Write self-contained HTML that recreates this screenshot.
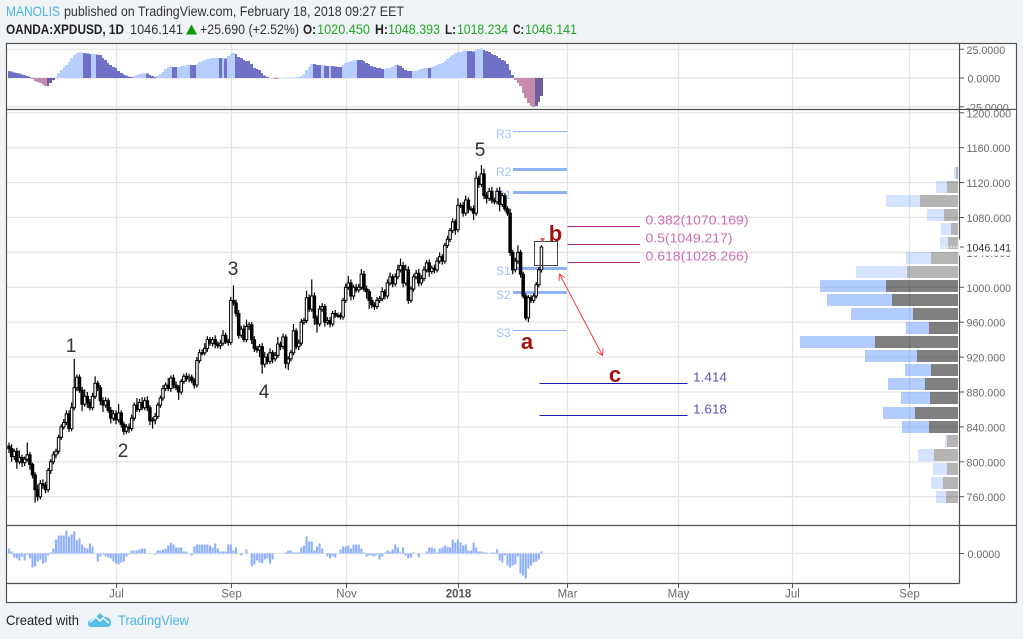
<!DOCTYPE html>
<html lang="en">
<head>
<meta charset="utf-8">
<title>OANDA:XPDUSD chart</title>
<style>
html,body{margin:0;padding:0;width:1023px;height:639px;overflow:hidden;background:#f0f3f7}
svg{display:block}
text{font-family:"Liberation Sans",sans-serif}
</style>
</head>
<body>
<svg id="chart" xmlns="http://www.w3.org/2000/svg" width="1023" height="639" viewBox="0 0 1023 639">
  <rect width="1023" height="639" fill="#f0f3f7"/>
  <g>
    <text x="6" y="16" font-size="14" fill="#4bb5e6" textLength="54" lengthAdjust="spacingAndGlyphs">MANOLIS</text>
    <text x="64" y="16" font-size="14" fill="#333" textLength="340" lengthAdjust="spacingAndGlyphs">published on TradingView.com, February 18, 2018 09:27 EET</text>
    <text x="6" y="34" font-size="14" font-weight="bold" fill="#222" textLength="118" lengthAdjust="spacingAndGlyphs">OANDA:XPDUSD, 1D</text>
    <text x="130" y="34" font-size="14" fill="#333" textLength="53" lengthAdjust="spacingAndGlyphs">1046.141</text>
    <polygon points="186,34.5 197,34.5 191.5,24.5" fill="#0a9a0a"/>
    <text x="200" y="34" font-size="14" fill="#333" textLength="99" lengthAdjust="spacingAndGlyphs">+25.690 (+2.52%)</text>
    <text x="303" y="34" font-size="14" font-weight="bold" fill="#222" textLength="13" lengthAdjust="spacingAndGlyphs">O:</text>
    <text x="317" y="34" font-size="14" fill="#22a822" textLength="53" lengthAdjust="spacingAndGlyphs">1020.450</text>
    <text x="375" y="34" font-size="14" font-weight="bold" fill="#222" textLength="13" lengthAdjust="spacingAndGlyphs">H:</text>
    <text x="388" y="34" font-size="14" fill="#22a822" textLength="52" lengthAdjust="spacingAndGlyphs">1048.393</text>
    <text x="445" y="34" font-size="14" font-weight="bold" fill="#222" textLength="11" lengthAdjust="spacingAndGlyphs">L:</text>
    <text x="457" y="34" font-size="14" fill="#22a822" textLength="51" lengthAdjust="spacingAndGlyphs">1018.234</text>
    <text x="513" y="34" font-size="14" font-weight="bold" fill="#222" textLength="11" lengthAdjust="spacingAndGlyphs">C:</text>
    <text x="525" y="34" font-size="14" fill="#22a822" textLength="52" lengthAdjust="spacingAndGlyphs">1046.141</text>
  </g>
  <rect x="6.5" y="43.5" width="1010" height="559" fill="#fff"/>
  <g id="grid"></g>
  <g id="profile"></g>
  <g id="oscTop"></g>
  <g id="oscBottom"></g>
  <g id="pivots"></g>
  <g id="candles"></g>
  <g id="fibs"></g>
  <g>
    <text x="71" y="352" font-size="19" fill="#333" text-anchor="middle">1</text>
    <text x="123" y="457" font-size="19" fill="#333" text-anchor="middle">2</text>
    <text x="233" y="275" font-size="19" fill="#333" text-anchor="middle">3</text>
    <text x="264" y="398" font-size="19" fill="#333" text-anchor="middle">4</text>
    <text x="480" y="156" font-size="19" fill="#333" text-anchor="middle">5</text>
    <text x="527" y="349" font-size="22" font-weight="bold" fill="#a51111" text-anchor="middle">a</text>
    <text x="555.5" y="241" font-size="22" font-weight="bold" fill="#a51111" text-anchor="middle">b</text>
    <text x="615" y="382" font-size="22" font-weight="bold" fill="#a51111" text-anchor="middle">c</text>
    <rect x="534.5" y="241.5" width="23" height="24" fill="none" stroke="#444" stroke-width="1"/>
    <polygon points="540,238 545,238 542.5,243" fill="#e06060"/>
    <g stroke="#f23c3c" stroke-width="1" fill="none">
      <line x1="559.5" y1="274" x2="602.5" y2="355.5"/>
      <polyline points="559,281 559.5,274 565,278"/>
      <polyline points="596.5,351.5 602.5,355.5 603,348.5"/>
    </g>
  </g>
  <g id="frame" stroke="#505050" stroke-width="1.2" fill="none">
    <rect x="6.5" y="43.5" width="1010" height="559"/>
    <line x1="959.5" y1="43.5" x2="959.5" y2="583.5"/>
    <line x1="6.5" y1="109.5" x2="1016.5" y2="109.5"/>
    <line x1="6.5" y1="525.5" x2="1016.5" y2="525.5"/>
    <line x1="6.5" y1="583.5" x2="959.5" y2="583.5"/>
  </g>
  <g id="axes"></g>
  <g>
    <text x="6" y="625" font-size="14" fill="#222" textLength="73" lengthAdjust="spacingAndGlyphs">Created with</text>
    <g>
      <path d="M88 624 Q88 620 92 619 Q94 617 96 617 L100 613 L104 617 Q111 617 111 623 Q111 627 107 627 L92 627 Q88 627 88 624 Z" fill="#55bfe6"/>
      <polyline points="90,622 96,617 100,621 103,618 109,623" fill="none" stroke="#f0f3f7" stroke-width="1.6"/>
    </g>
    <text x="118" y="625" font-size="14" fill="#4bb5e6" textLength="71" lengthAdjust="spacingAndGlyphs">TradingView</text>
  </g>
</svg>
<script>
// ---------- Chart data ----------
const closes = [
815,806,812,800,805,799,803,808,797,785,
768,760,775,773,768,790,800,808,812,828,
840,845,855,838,862,885,897,882,866,875,
868,862,875,890,885,870,865,870,859,850,
855,848,856,843,835,840,838,850,865,860,
868,862,870,862,847,848,852,865,873,884,
888,884,896,888,885,880,892,898,895,897,
893,888,916,925,925,930,940,936,940,935,
933,936,945,938,937,985,982,970,945,952,
940,955,957,940,930,928,932,912,920,915,
925,918,922,935,932,943,913,918,925,950,
932,936,960,962,988,975,990,965,958,975,
978,960,962,958,970,968,968,966,985,1000,
1005,990,1000,997,1000,1015,998,995,985,980,
978,985,987,995,990,1005,1012,1004,1012,1020,
1025,1005,1020,985,998,1012,1016,1005,1010,1020,
1028,1018,1022,1020,1030,1035,1030,1048,1055,1065,
1075,1066,1094,1094,1085,1100,1090,1090,1085,1125,
1118,1130,1105,1102,1110,1100,1098,1110,1095,1105,
1090,1085,1040,1020,1030,1040,1015,990,965,988,
985,990,1003,1020,1046.141];
const firstOpen = 818;
const highWick = [
4,5,3,4,8,3,3,14,3,2,
3,6,4,5,4,3,3,4,3,3,
3,4,4,4,6,33,3,3,4,8,
5,4,4,8,3,3,4,4,3,4,
4,4,10,3,3,3,4,4,3,8,
4,6,4,5,3,3,4,3,3,4,
3,8,3,4,4,3,3,3,4,4,
3,3,4,4,4,6,4,3,3,5,
3,4,6,3,3,4,17,4,4,4,
5,8,3,3,4,3,3,4,6,4,
5,3,4,8,3,4,3,3,3,8,
3,4,4,3,8,4,19,4,3,4,
4,3,4,4,3,4,3,3,3,4,
8,4,3,4,4,6,4,4,3,4,
3,4,3,5,3,4,5,3,4,6,
8,4,6,4,3,3,4,5,4,4,
3,4,3,4,4,5,3,3,4,3,
4,3,8,3,4,5,3,3,4,8,
3,10,6,4,4,5,3,4,5,3,
3,3,5,3,4,8,3,3,3,3,
3,3,3,3,2];
const lowWick = [
5,6,4,8,3,5,4,3,6,4,
15,5,3,4,4,3,4,3,4,3,
3,3,3,4,3,3,4,3,8,3,
6,3,3,3,4,5,8,3,3,6,
3,5,3,4,4,3,5,3,3,3,
3,3,3,4,5,9,5,3,3,3,
3,3,4,4,3,9,3,3,3,4,
3,4,3,3,3,3,4,3,4,5,
3,4,3,3,4,3,3,4,4,3,
3,3,4,5,4,3,8,11,4,3,
3,5,3,3,4,3,6,8,3,3,
3,4,3,3,3,3,3,8,10,3,
3,5,3,4,3,3,3,3,3,3,
3,5,4,3,3,3,3,8,10,4,
4,3,3,3,4,3,3,4,3,3,
3,5,3,4,3,3,3,4,3,3,
3,6,3,4,3,3,4,3,3,3,
3,6,3,3,4,3,5,3,8,3,
4,3,4,6,3,4,3,3,8,3,
3,3,4,5,3,3,4,3,3,5,
3,3,3,3,3];
const topOscillator = [
6.1,5.7,4.8,4.4,3.9,3,2.6,1.7,.9,-.9,
-2.6,-3.5,-4.4,-5.7,-7,-7,-4.4,-1.7,.9,4.4,
7,9.6,11.3,13.9,17.4,20,21.8,22.2,22.6,21.8,
21.3,20.9,20.9,20.9,20.4,20,17.4,15.7,13,11.3,
9.6,8.7,6.1,4.4,3,2.2,1.3,.9,1.7,2.6,
3.5,3.9,4.4,3.9,2.6,1.7,.9,1.7,3.5,5.2,
7.8,9.6,10.4,9.6,9.5,9.6,10.4,10.5,11.3,11.4,
11.3,11.2,12.2,13.9,14.8,15.7,16.5,17,17.4,17.4,
17.5,17.3,17.4,17,19.1,20.9,21.8,20.9,18.3,17.4,
15.7,14.8,14.7,12.2,8.7,7.8,7,4.4,2.2,.9,
0,-.4,-.9,-.4,0,0,.3,.3,.3,.3,
.4,.9,1.7,3.5,7,9.6,12.2,12.1,11.3,11.2,
11.3,10.9,10.4,10.5,10.4,10,9.6,9.5,11.3,13,
13.9,14.8,15.2,15.7,15.6,15.5,14.8,13,12.2,10.4,
9.6,8.7,8.6,7.8,7.9,8.7,8.8,9.6,11.3,11.2,
10.4,8.7,7,6.1,6,6.1,6.2,7,7.8,8.7,
8.8,8.7,9.6,10.4,11.3,12.2,13,14.8,16.5,18.3,
20,21.8,22.6,22.7,23.5,23.9,23.5,23.4,23,24.4,
25.2,25.7,24.4,23.5,22.6,20.9,20,19.1,17.4,15.7,
14.8,12.2,7,2.6,-1.7,-4.4,-7,-13,-17.4,-21.8,
-24.4,-25.2,-24.4,-20.9,-15.7];
const bottomOscillator = [
5,2,-4,-5,-7,-3,-7,-1,-5,-14,
-13,-8,-6,-10,-9,-2,1,5,14,18,
18,18,23,17,19,22,13,15,9,6,
5,10,7,0,-8,-3,-1,-3,-4,-5,
-8,-10,-11,-9,-8,-3,-1,3,3,3,
4,5,5,0,0,0,-1,3,3,4,
5,8,11,9,6,6,6,2,2,0,
-2,7,9,9,9,9,9,8,6,10,
5,2,2,2,9,9,3,6,0,-2,
0,4,0,-13,-11,-7,-9,-10,-6,-5,
-10,-6,0,0,0,0,1,3,3,1,
1,1,6,8,17,12,12,3,7,10,
5,0,-3,-5,-3,-4,0,4,7,7,
8,5,9,9,9,5,1,-3,-2,-2,
-3,-1,-6,-3,1,3,2,4,9,6,
1,6,-2,-5,-4,1,0,-4,0,0,
2,6,6,5,1,5,6,8,7,6,
14,11,14,11,8,9,3,3,11,6,
2,2,1,1,0,1,1,4,-7,-9,
-2,-12,-14,-12,-11,-3,-20,-22,-25,-15,
-12,-9,-8,-6,2];
const priceTicks = [1200,1160,1120,1080,1040,1000,960,920,880,840,800,760];
const priceTickLabels = ['1200.000','1160.000','1120.000','1080.000','1040.000','1000.000','960.000','920.000','880.000','840.000','800.000','760.000'];
const topOscTicks = [25,0,-25];
const topOscTickLabels = ['25.0000','0.0000','-25.0000'];
const bottomOscTicks = [0];
const bottomOscTickLabels = ['0.0000'];
const timeTickBars = [41.2,85.2,129.2,172.2,213.8,256.4,300,345.2];
const timeTickLabels = ['Jul','Sep','Nov','2018','Mar','May','Jul','Sep'];
const profilePrices = [1131,1114.9,1098.7,1082.6,1066.4,1050.3,1034.1,1018,1001.8,985.7,969.5,953.4,937.2,921.1,904.9,888.8,872.6,856.5,840.3,824.2,808,791.9,775.7,759.6];
const profileGrey = [2,11,38,14,7,10,27,51,72,66,45,29,83,41,27,33,28,43,29,11,24,11,15,12];
const profileBlue = [2,11,34,17,10,8,25,51,66,65,62,23,75,52,26,37,29,32,27,2,16,14,12,10];
const profileValueAreaHigh = 1010;
const profileValueAreaLow = 832;
const pivotNames = ['R3','R2','R1','S1','S2','S3'];
const pivotPrices = [1178.8,1135.2,1108.9,1021.8,994.3,950.8];
const pivotThickness = [1,3,3,3,3,1];
const fibPrices = [1070.169,1049.217,1028.266];
const fibLabels = ['0.382(1070.169)','0.5(1049.217)','0.618(1028.266)'];
const extPrices = [889.2,852.5];
const extLabels = ['1.414','1.618'];
const lastPrice = 1046.141;

// ---------- Axis functions ----------
const xOf = i => 9 + 2.61 * i;
const yOf = p => 287.3 - (p - 1000) * 0.8725;
const yTop = v => 78 - v * 1.15;
const yBottom = v => 553.5 - v;
const profileBase = 958;
const snap = y => Math.floor(y) + 0.5;

const NS = 'http://www.w3.org/2000/svg';
function make(tag, parent, props) {
  const el = document.createElementNS(NS, tag);
  for (const k in props) el.setAttribute(k, props[k]);
  parent.appendChild(el);
  return el;
}
const gridG = document.getElementById('grid');
const profileG = document.getElementById('profile');
const oscTopG = document.getElementById('oscTop');
const oscBotG = document.getElementById('oscBottom');
const pivotsG = document.getElementById('pivots');
const candlesG = document.getElementById('candles');
const fibsG = document.getElementById('fibs');
const axesG = document.getElementById('axes');
const GRID = '#e4e4e4';

// ---------- Grid ----------
timeTickBars.forEach(b => {
  const x = Math.floor(xOf(b)) + 0.5;
  [[43.5,109.5],[109.5,525.5],[525.5,583.5]].forEach(r => {
    const l = make('line', gridG, {x1:x, x2:x, y1:r[0], y2:r[1], stroke:GRID, 'stroke-width':1.3});
    
    
  });
});
priceTicks.forEach(p => {
  const l = make('line', gridG, {x1:6.5, x2:959.5, y1:yOf(p), y2:yOf(p), stroke:GRID, 'stroke-width':1.3});
  
  
});
topOscTicks.forEach(v => {
  const l = make('line', gridG, {x1:6.5, x2:959.5, y1:yTop(v), y2:yTop(v), stroke:GRID, 'stroke-width':1.3});
  
  
});
bottomOscTicks.forEach(v => {
  const l = make('line', gridG, {x1:6.5, x2:959.5, y1:yBottom(v), y2:yBottom(v), stroke:GRID, 'stroke-width':1.3});
  
  
});

// ---------- Volume profile ----------
profilePrices.forEach((p, i) => {
  const strong = p <= profileValueAreaHigh && p >= profileValueAreaLow;
  const y = Math.round(yOf(p) - 6);
  const g = profileGrey[i], b = profileBlue[i];
  const grey = make('rect', profileG, {x:profileBase - g, y:y, width:g, height:12, fill: strong ? 'rgba(0,0,0,.5)' : 'rgba(0,0,0,.29)'});
  
  
  const blue = make('rect', profileG, {x:profileBase - g - b, y:y, width:b, height:12, fill: strong ? 'rgba(102,153,255,.5)' : 'rgba(102,153,255,.28)'});
  
  
});
const dash = make('line', profileG, {x1:905, x2:958, y1:yOf(lastPrice), y2:yOf(lastPrice), stroke:'#fff', 'stroke-dasharray':'2 1'});



// ---------- Top oscillator ----------
topOscillator.forEach((v, i) => {
  const prev = i ? topOscillator[i - 1] : v + 0.1;
  const rising = v >= prev;
  const fill = v >= 0 ? (rising ? '#b5ceff' : '#7070c6') : (rising ? '#6f5f9e' : '#c58aad');
  const left = Math.round(xOf(i - 0.5)), right = Math.round(xOf(i + 0.5));
  const y0 = yTop(0), y1 = yTop(v);
  const r = make('rect', oscTopG, {x:left, y:Math.min(y0, y1), width:right - left, height:Math.abs(y1 - y0), fill:fill, 'shape-rendering':'crispEdges'});
  
  
});

// ---------- Bottom oscillator ----------
bottomOscillator.forEach((v, i) => {
  const y0 = yBottom(0), y1 = yBottom(v);
  const r = make('rect', oscBotG, {x:xOf(i) - 1.05, y:Math.min(y0, y1), width:2.1, height:Math.abs(y1 - y0), fill:'#8fb0fb'});
  
  
});

// ---------- Pivot levels ----------
pivotNames.forEach((n, i) => {
  const y = snap(yOf(pivotPrices[i]));
  const l = make('line', pivotsG, {x1:513, x2:567, y1:y, y2:y, stroke:'#8fb0fb', 'stroke-width':pivotThickness[i]});
  
  
  const t = make('text', pivotsG, {x:496, y:y + 6.5, 'font-size':12, fill:'#a3c0ff'});
  
  
  t.textContent = n;
});

// ---------- Candles ----------
closes.forEach((c, i) => {
  const o = i ? closes[i - 1] : firstOpen;
  const hi = Math.max(o, c) + highWick[i];
  const lo = Math.min(o, c) - lowWick[i];
  const x = xOf(i);
  const wick = make('line', candlesG, {x1:x, x2:x, y1:yOf(hi), y2:yOf(lo), stroke:'#000', 'stroke-width':1.2});
  
  
  const top = yOf(Math.max(o, c)), bot = yOf(Math.min(o, c));
  const body = make('rect', candlesG, {x:x - 1.25, y:top, width:2.5, height:Math.max(1, bot - top), fill: c >= o ? '#fff' : '#000', stroke:'#000', 'stroke-width':1});
  
  
});

// ---------- Fibonacci levels ----------
fibPrices.forEach((p, i) => {
  const y = snap(yOf(p));
  const l = make('line', fibsG, {x1:567.5, x2:640, y1:y, y2:y, stroke:'#b5288f', 'stroke-width':1});
  
  
  const t = make('text', fibsG, {x:645.5, y:y - 2, 'font-size':13, fill:'#cd6cb4', textLength: fibLabels[i].length > 13 ? 103 : 87, lengthAdjust:'spacingAndGlyphs'});
  
  
  t.textContent = fibLabels[i];
});
extPrices.forEach((p, i) => {
  const y = snap(yOf(p));
  const l = make('line', fibsG, {x1:539.5, x2:687.5, y1:y, y2:y, stroke:'#1a1ab0', 'stroke-width':1});
  
  
  const t = make('text', fibsG, {x:693, y:y - 2, 'font-size':13, fill:'#5c55bd', textLength:34, lengthAdjust:'spacingAndGlyphs'});
  
  
  t.textContent = extLabels[i];
});

// ---------- Axes ----------
const TICK = '#6a6a6a';
function tickLabel(y, label) {
  const tick = make('line', axesG, {x1:960, x2:964, y1:y, y2:y, stroke:'#555', 'stroke-width':1});
  
  
  const t = make('text', axesG, {x:label.length === 6 ? 967.5 : 966.5, y:y + 4.5, 'font-size':10.7, fill:TICK});
  
  
  t.textContent = label;
  return t;
}
topOscTicks.forEach((v, i) => tickLabel(yTop(v), topOscTickLabels[i]));
const topCover = make('rect', axesG, {x:960, y:110, width:56, height:4, fill:'#fff'});


priceTicks.forEach((p, i) => tickLabel(yOf(p), priceTickLabels[i]));
bottomOscTicks.forEach((v, i) => tickLabel(yBottom(v), bottomOscTickLabels[i]));
timeTickBars.forEach((b, i) => {
  const x = Math.floor(xOf(b)) + 0.5;
  const tick = make('line', axesG, {x1:x, x2:x, y1:584, y2:588, stroke:'#555', 'stroke-width':1});
  
  
  const t = make('text', axesG, {x:x, y:597.5, 'font-size':11.5, fill: timeTickLabels[i] === '2018' ? '#555' : TICK, 'font-weight': timeTickLabels[i] === '2018' ? 'bold' : 'normal', 'text-anchor':'middle'});
  
  
  t.textContent = timeTickLabels[i];
});
// Last price flag
const flagY = yOf(lastPrice);
const flag = make('rect', axesG, {x:959, y:flagY - 7.5, width:57, height:16, fill:'#fff'});


const flagTick = make('line', axesG, {x1:960, x2:964, y1:flagY, y2:flagY, stroke:'#555', 'stroke-width':1});


const flagText = make('text', axesG, {x:966.5, y:flagY + 4.5, 'font-size':10.7, fill:'#333'});


flagText.textContent = lastPrice.toFixed(3);
</script>
</body>
</html>
